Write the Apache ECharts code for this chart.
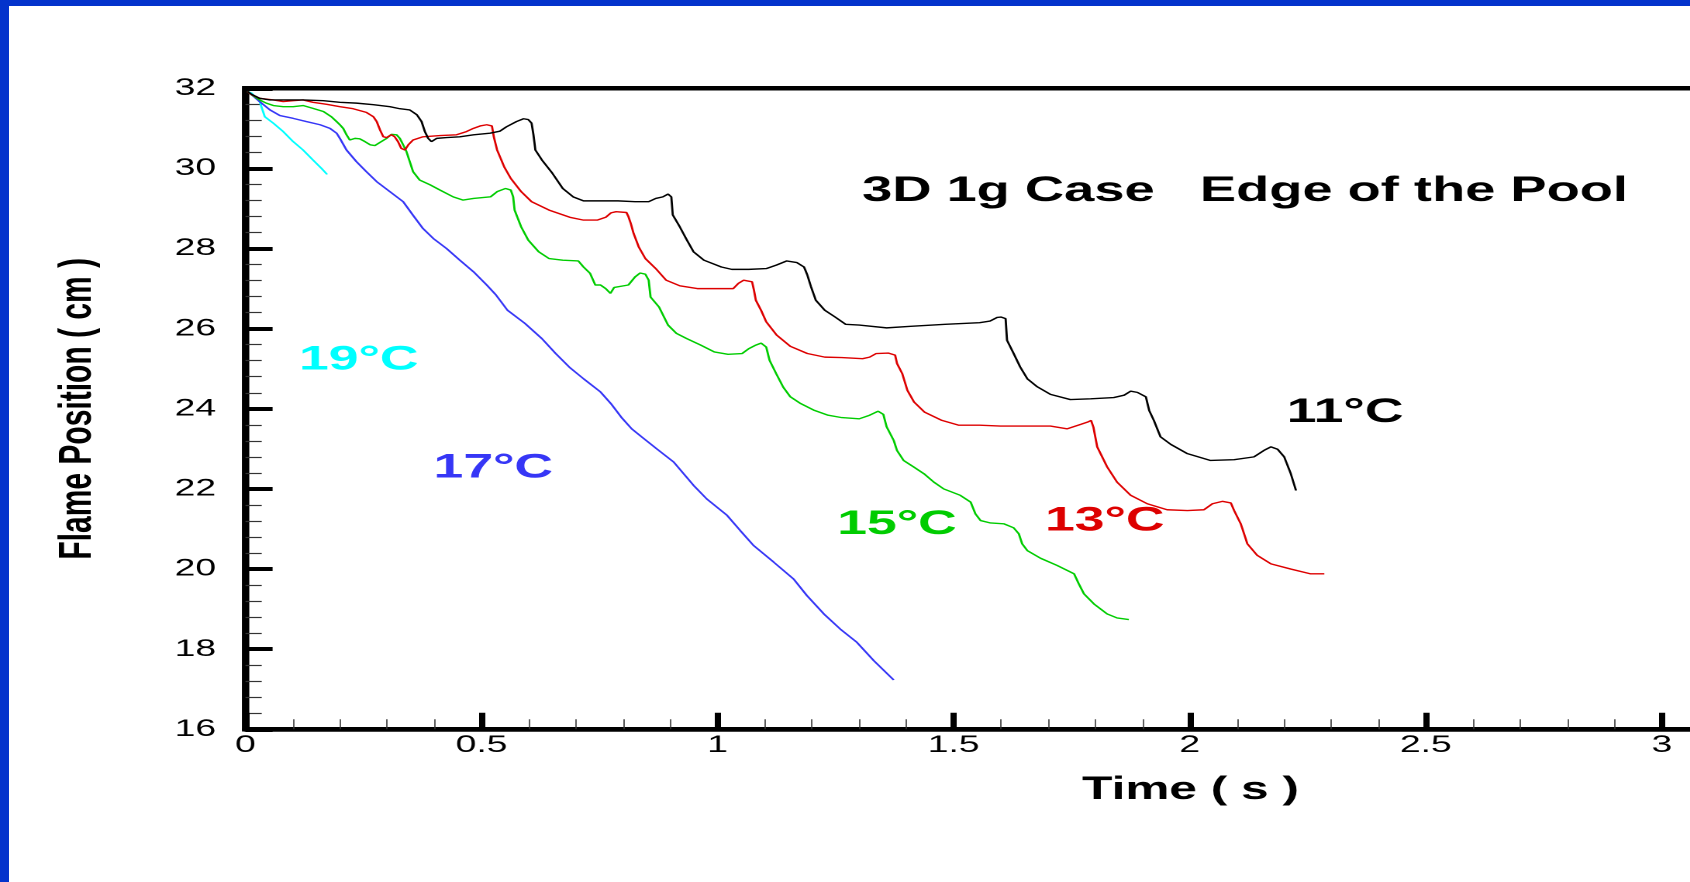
<!DOCTYPE html>
<html>
<head>
<meta charset="utf-8">
<title>3D 1g Case - Edge of the Pool</title>
<script src="https://cdn.jsdelivr.net/npm/echarts@6/dist/echarts.min.js"></script>
<style>
  html, body { margin: 0; padding: 0; background: #fff; overflow: hidden; }
  #page { position: relative; width: 1690px; height: 882px; overflow: hidden; background: #fff; }
  /* slide frame: blue bands along the top and left edges */
  #band-top  { position: absolute; left: 0; top: 0; width: 1690px; height: 6px; background: #0433cc; }
  #band-left { position: absolute; left: 0; top: 0; width: 9px; height: 882px; background: #0433cc; }
  /* the slide is laid out at its native width and stretched across the wide frame */
  #chart { position: absolute; left: 0; top: 0; width: 1090px; height: 882px;
           transform: scaleX(1.5505); transform-origin: 0 0; }
</style>
</head>
<body>
<div id="page">
  <div id="chart"></div>
  <div id="band-top"></div>
  <div id="band-left"></div>
</div>
<script>
// Axis ticks
const xTicks = [0, 0.5, 1, 1.5, 2, 2.5, 3];
const yTicks = [16, 18, 20, 22, 24, 26, 28, 30, 32];

// Flame position (cm) against time (s) for each pool temperature
const flame11C = [
  [0.004,31.92],[0.013,31.85],[0.030,31.75],[0.052,31.71],[0.080,31.71],[0.122,31.71],[0.165,31.69],
  [0.200,31.65],[0.235,31.63],[0.271,31.59],[0.306,31.54],[0.327,31.49],[0.348,31.46],[0.363,31.34],
  [0.373,31.17],[0.380,30.92],[0.387,30.75],[0.394,30.67],[0.405,30.75],[0.426,30.77],[0.454,30.79],
  [0.483,30.84],[0.518,30.88],[0.539,30.93],[0.553,31.04],[0.574,31.17],[0.589,31.24],[0.599,31.22],
  [0.606,31.13],[0.610,30.84],[0.614,30.46],[0.628,30.21],[0.650,29.88],[0.672,29.50],[0.694,29.29],
  [0.716,29.19],[0.752,29.19],[0.789,29.19],[0.825,29.17],[0.854,29.17],[0.869,29.25],[0.884,29.29],
  [0.895,29.36],[0.902,29.29],[0.905,28.84],[0.920,28.54],[0.935,28.21],[0.949,27.92],[0.971,27.71],
  [1.008,27.54],[1.030,27.48],[1.066,27.48],[1.103,27.50],[1.125,27.59],[1.146,27.69],[1.168,27.65],
  [1.183,27.54],[1.190,27.34],[1.198,27.04],[1.208,26.71],[1.227,26.46],[1.249,26.29],[1.271,26.11],
  [1.300,26.09],[1.358,26.02],[1.409,26.06],[1.482,26.11],[1.555,26.15],[1.577,26.19],[1.592,26.28],
  [1.600,26.29],[1.610,26.25],[1.613,25.71],[1.627,25.38],[1.641,25.04],[1.656,24.75],[1.677,24.55],
  [1.705,24.36],[1.747,24.23],[1.790,24.25],[1.839,24.28],[1.861,24.34],[1.875,24.44],[1.889,24.41],
  [1.907,24.30],[1.914,23.96],[1.924,23.71],[1.938,23.30],[1.960,23.11],[1.995,22.88],[2.044,22.71],
  [2.094,22.73],[2.136,22.80],[2.157,22.96],[2.172,23.05],[2.186,22.99],[2.200,22.80],[2.214,22.38],
  [2.225,21.96]
];

const flame13C = [
  [0.004,31.92],[0.013,31.84],[0.030,31.75],[0.059,31.71],[0.080,31.67],[0.101,31.69],[0.122,31.71],
  [0.143,31.65],[0.172,31.60],[0.200,31.54],[0.228,31.49],[0.256,31.40],[0.271,31.29],[0.278,31.17],
  [0.285,30.96],[0.292,30.79],[0.299,30.77],[0.309,30.84],[0.316,30.79],[0.323,30.67],[0.330,30.50],
  [0.338,30.46],[0.345,30.59],[0.355,30.71],[0.376,30.79],[0.412,30.82],[0.447,30.84],[0.468,30.92],
  [0.483,31.00],[0.497,31.06],[0.511,31.09],[0.522,31.06],[0.526,30.79],[0.533,30.46],[0.548,30.04],
  [0.562,29.75],[0.584,29.42],[0.606,29.17],[0.643,28.96],[0.687,28.78],[0.716,28.71],[0.745,28.71],
  [0.763,28.78],[0.774,28.89],[0.785,28.92],[0.807,28.90],[0.811,28.80],[0.816,28.63],[0.822,28.38],
  [0.833,28.04],[0.847,27.75],[0.869,27.50],[0.891,27.21],[0.920,27.07],[0.957,27.00],[0.993,27.00],
  [1.033,27.00],[1.044,27.13],[1.055,27.21],[1.073,27.17],[1.077,26.96],[1.081,26.71],[1.092,26.46],
  [1.103,26.17],[1.125,25.84],[1.154,25.56],[1.190,25.38],[1.227,25.29],[1.263,25.28],[1.307,25.25],
  [1.322,25.29],[1.336,25.38],[1.362,25.39],[1.376,25.34],[1.380,25.13],[1.391,24.88],[1.402,24.46],
  [1.416,24.17],[1.438,23.92],[1.475,23.71],[1.511,23.59],[1.555,23.59],[1.599,23.57],[1.705,23.57],
  [1.740,23.50],[1.769,23.61],[1.784,23.67],[1.791,23.71],[1.796,23.54],[1.804,23.05],[1.825,22.55],
  [1.846,22.17],[1.875,21.84],[1.910,21.63],[1.952,21.48],[1.995,21.46],[2.030,21.48],[2.048,21.63],
  [2.069,21.69],[2.087,21.65],[2.094,21.46],[2.108,21.13],[2.122,20.63],[2.143,20.34],[2.172,20.13],
  [2.214,20.00],[2.256,19.88],[2.285,19.88]
];

const flame15C = [
  [0.004,31.92],[0.013,31.84],[0.030,31.71],[0.044,31.63],[0.059,31.57],[0.080,31.54],[0.101,31.54],
  [0.122,31.57],[0.143,31.50],[0.165,31.42],[0.182,31.29],[0.193,31.17],[0.200,31.09],[0.207,31.00],
  [0.214,30.84],[0.221,30.71],[0.232,30.75],[0.242,30.74],[0.253,30.67],[0.264,30.59],[0.274,30.57],
  [0.285,30.65],[0.299,30.75],[0.309,30.85],[0.320,30.84],[0.327,30.75],[0.334,30.59],[0.341,30.42],
  [0.348,30.17],[0.355,29.92],[0.369,29.71],[0.391,29.59],[0.412,29.46],[0.440,29.29],[0.461,29.21],
  [0.483,29.25],[0.519,29.29],[0.533,29.42],[0.551,29.50],[0.562,29.46],[0.567,29.29],[0.570,28.96],
  [0.584,28.54],[0.599,28.21],[0.621,27.92],[0.643,27.75],[0.672,27.71],[0.705,27.69],[0.716,27.54],
  [0.730,27.38],[0.741,27.09],[0.752,27.09],[0.763,27.00],[0.773,26.88],[0.781,27.03],[0.811,27.09],
  [0.825,27.29],[0.836,27.39],[0.847,27.36],[0.854,27.21],[0.858,26.79],[0.876,26.54],[0.895,26.09],
  [0.913,25.88],[0.935,25.75],[0.964,25.59],[0.993,25.42],[1.022,25.36],[1.052,25.38],[1.066,25.50],
  [1.081,25.59],[1.092,25.64],[1.103,25.54],[1.110,25.21],[1.124,24.88],[1.139,24.54],[1.154,24.30],
  [1.176,24.13],[1.205,23.96],[1.234,23.84],[1.263,23.78],[1.300,23.75],[1.322,23.84],[1.340,23.94],
  [1.351,23.86],[1.358,23.55],[1.373,23.21],[1.380,22.96],[1.394,22.71],[1.415,22.55],[1.437,22.38],
  [1.458,22.17],[1.479,22.00],[1.514,21.84],[1.536,21.67],[1.546,21.38],[1.557,21.21],[1.578,21.15],
  [1.606,21.13],[1.627,21.03],[1.638,20.88],[1.645,20.63],[1.656,20.46],[1.684,20.27],[1.719,20.09],
  [1.755,19.88],[1.765,19.63],[1.776,19.38],[1.797,19.13],[1.825,18.88],[1.846,18.78],[1.871,18.74]
];

const flame17C = [
  [0.004,31.92],[0.013,31.84],[0.030,31.67],[0.052,31.46],[0.073,31.32],[0.101,31.25],[0.129,31.17],
  [0.158,31.09],[0.179,31.00],[0.193,30.88],[0.200,30.75],[0.214,30.46],[0.235,30.17],[0.256,29.92],
  [0.278,29.67],[0.306,29.42],[0.334,29.17],[0.355,28.83],[0.376,28.50],[0.398,28.25],[0.426,28.00],
  [0.454,27.71],[0.483,27.42],[0.511,27.09],[0.530,26.85],[0.555,26.46],[0.592,26.13],[0.628,25.75],
  [0.657,25.38],[0.686,25.04],[0.716,24.75],[0.752,24.42],[0.774,24.13],[0.796,23.79],[0.818,23.50],
  [0.840,23.29],[0.871,23.00],[0.907,22.67],[0.928,22.38],[0.949,22.09],[0.977,21.75],[1.020,21.34],
  [1.048,20.96],[1.076,20.59],[1.119,20.17],[1.161,19.75],[1.189,19.34],[1.225,18.88],[1.260,18.50],
  [1.295,18.17],[1.331,17.71],[1.373,17.23]
];

const flame19C = [
  [0.004,31.92],[0.013,31.88],[0.020,31.79],[0.030,31.67],[0.041,31.29],[0.059,31.13],[0.080,30.92],
  [0.101,30.67],[0.122,30.46],[0.143,30.21],[0.161,30.00],[0.173,29.85]
];

const FONT = '"Liberation Sans", Arial, Helvetica, sans-serif';

function curve(name, data, color, labelCoord) {
  return {
    name: name,
    type: 'line',
    data: data,
    showSymbol: false,
    symbol: 'none',
    animation: false,
    lineStyle: { color: color, width: 1.4 },
    itemStyle: { color: color },
    markPoint: {
      symbol: 'circle',
      symbolSize: 0,
      silent: true,
      animation: false,
      data: [{ coord: labelCoord }],
      label: {
        show: true,
        position: 'inside',
        formatter: name,
        color: color,
        fontFamily: FONT,
        fontSize: 34.5,
        fontWeight: 'bold'
      }
    }
  };
}

const chart = echarts.init(document.getElementById('chart'), null, { devicePixelRatio: 2 });

chart.setOption({
  animation: false,
  backgroundColor: 'transparent',
  title: {
    text: '3D 1g Case   Edge of the Pool',
    left: 556,
    top: 174,
    padding: 0,
    textStyle: { fontFamily: FONT, fontSize: 35, fontWeight: 'bold', color: '#000' }
  },
  grid: {
    left: 158.3,
    top: 88.3,
    width: 944,
    height: 641,
    outerBoundsMode: 'none',
    containLabel: false,
    show: true,
    borderColor: '#000',
    borderWidth: 4.5,
    backgroundColor: 'transparent'
  },
  xAxis: {
    type: 'value',
    min: xTicks[0],
    max: 3.1,
    interval: xTicks[1] - xTicks[0],
    name: 'Time ( s )',
    nameLocation: 'middle',
    nameGap: 45,
    nameTextStyle: { fontFamily: FONT, fontSize: 32, fontWeight: 'bold', color: '#000', padding: [0, 0, 0, 275] },
    axisLine: { show: true, lineStyle: { color: '#000', width: 4.5 } },
    axisTick: { show: true, inside: true, length: 16.5, lineStyle: { color: '#000', width: 4 } },
    minorTick: { show: true, splitNumber: 5, length: 10, lineStyle: { color: '#333', width: 0.8 } },
    splitLine: { show: false },
    axisLabel: {
      margin: 4,
      showMaxLabel: false,
      fontFamily: FONT,
      fontSize: 24,
      color: '#000',
      formatter: v => (xTicks.some(t => Math.abs(t - v) < 1e-9) ? String(v) : '')
    }
  },
  yAxis: {
    type: 'value',
    min: yTicks[0],
    max: yTicks[yTicks.length - 1],
    interval: yTicks[1] - yTicks[0],
    name: 'Flame Position ( cm )',
    nameLocation: 'middle',
    nameGap: 93,
    nameTextStyle: { fontFamily: FONT, fontSize: 30, fontWeight: 'bold', color: '#000' },
    axisLine: { show: true, lineStyle: { color: '#000', width: 4.5 } },
    axisTick: { show: true, inside: true, length: 17.5, lineStyle: { color: '#000', width: 4 } },
    minorTick: { show: true, splitNumber: 5, length: 10.5, lineStyle: { color: '#333', width: 1.2 } },
    splitLine: { show: false },
    axisLabel: { margin: 19, fontFamily: FONT, fontSize: 24, color: '#000' }
  },
  series: [
    curve('19°C', flame19C, '#00ffff', [0.240, 25.22]),
    curve('17°C', flame17C, '#3636f6', [0.525, 22.52]),
    curve('15°C', flame15C, '#00cc00', [1.380, 21.11]),
    curve('13°C', flame13C, '#dd0000', [1.820, 21.20]),
    curve('11°C', flame11C, '#000000', [2.329, 23.91])
  ]
});
</script>
</body>
</html>
